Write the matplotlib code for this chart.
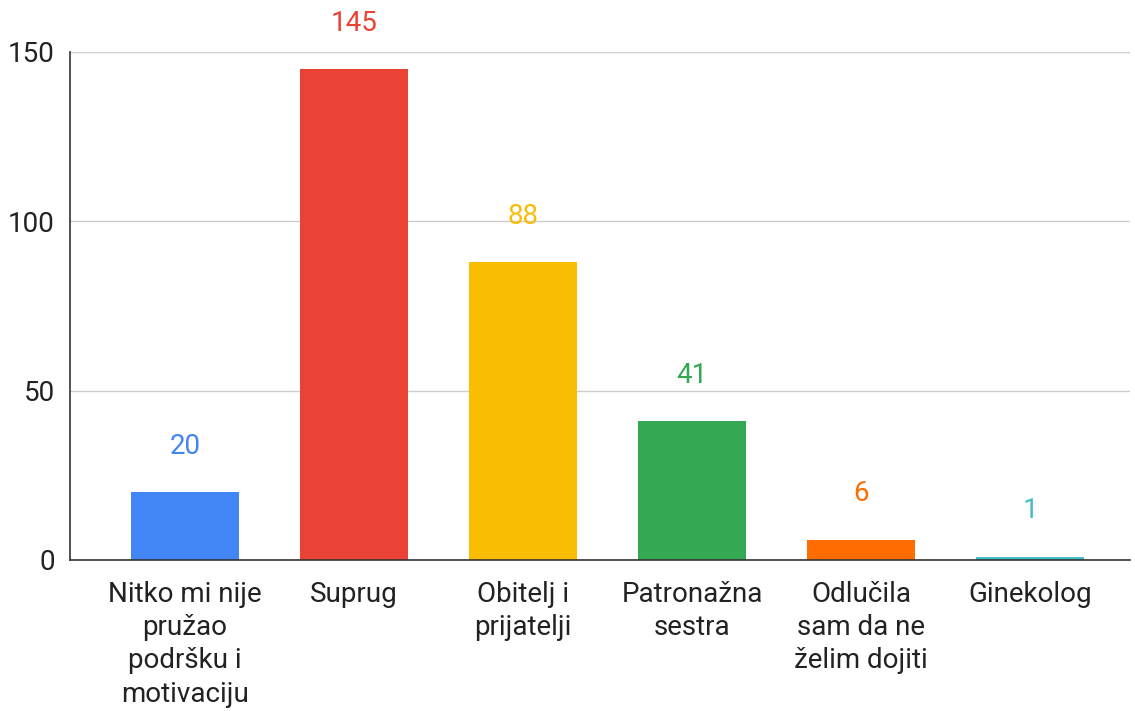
import numpy as np
import matplotlib.pyplot as plt

plt.rcParams['font.family'] = ['Roboto', 'DejaVu Sans']

categories = ['Nitko mi nije\npružao\npodršku i\nmotivaciju', 'Suprug', 'Obitelj i\nprijatelji',
              'Patronažna\nsestra', 'Odlučila\nsam da ne\nželim dojiti', 'Ginekolog']
values = [20, 145, 88, 41, 6, 1]
colors = ['#4285F4', '#EA4335', '#FBBC04', '#34A853', '#FF6D01', '#46BDC6']

fig = plt.figure(figsize=(11.35, 7.11), dpi=100)
ax = fig.add_axes([0.0617, 0.2124, 0.934, 0.7145])

x = np.arange(len(values))
ax.bar(x, values, width=0.64, color=colors, zorder=3)

for xi, v, c in zip(x, values, colors):
    ax.annotate(str(v), (xi, v), xytext=(0, 33), textcoords='offset points',
                ha='center', va='center', fontsize=20, color=c)

ax.set_xlim(-0.68, 5.59)
ax.set_ylim(0, 150)
ax.set_yticks([0, 50, 100, 150])
ax.yaxis.grid(True, color='#cccccc', linewidth=1, zorder=0)
ax.set_xticks(x)
ax.set_xticklabels(categories, fontsize=20, color='#222222', linespacing=1.3)
ax.tick_params(axis='y', labelsize=20, labelcolor='#222222', length=0, pad=11)
ax.tick_params(axis='x', length=0, pad=15)

for s in ['top', 'right']:
    ax.spines[s].set_visible(False)
ax.spines['left'].set_color('#333333')
ax.spines['bottom'].set_color('#333333')
ax.spines['left'].set_linewidth(1.2)
ax.spines['bottom'].set_linewidth(1.2)
ax.spines['bottom'].set_zorder(4)

fig.savefig('out.png', dpi=100)
